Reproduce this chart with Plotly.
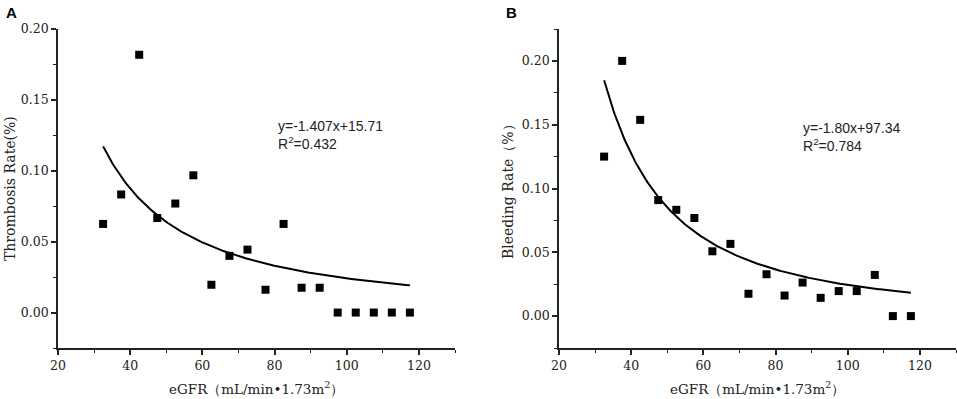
import numpy as np
import plotly.graph_objects as go

# ---------------- data ----------------
egfr = [32.5, 37.5, 42.5, 47.5, 52.5, 57.5, 62.5, 67.5, 72.5, 77.5,
        82.5, 87.5, 92.5, 97.5, 102.5, 107.5, 112.5, 117.5]
thrombosis_rate = [0.0625, 0.0833, 0.1818, 0.0667, 0.0769, 0.0968, 0.0196, 0.0400, 0.0444,
                   0.0161, 0.0625, 0.0175, 0.0175, 0.0, 0.0, 0.0, 0.0, 0.0]
bleeding_rate = [0.125, 0.200, 0.1538, 0.0909, 0.0833, 0.0769, 0.0508, 0.0566, 0.0175,
                 0.0328, 0.0161, 0.0263, 0.0143, 0.0196, 0.0196, 0.0323, 0.0, 0.0]

# fitted curves shown in the chart (y = a * x^b)
thrombosis_fit_a, thrombosis_fit_b = 15.71, -1.407
bleeding_fit_a, bleeding_fit_b = 97.34, -1.80
fit_x_min, fit_x_max = 32.5, 117.5

thrombosis_eq = ["y=-1.407x+15.71", "R<sup>2</sup>=0.432"]
bleeding_eq = ["y=-1.80x+97.34", "R<sup>2</sup>=0.784"]

x_title = "eGFR（mL/min•1.73m<sup>2</sup>）"
y_title_a = "Thrombosis Rate(%)"
y_title_b = "Bleeding Rate（%）"

# ---------------- figure ----------------
W, H = 957, 399
def px(x):
    return x / W
def py(y):
    return 1 - y / H

fit_x = np.linspace(fit_x_min, fit_x_max, 200)
fit_a = thrombosis_fit_a * fit_x ** thrombosis_fit_b
fit_b = bleeding_fit_a * fit_x ** bleeding_fit_b

fig = go.Figure()
marker = dict(symbol="square", size=8, color="black")
fig.add_trace(go.Scatter(x=egfr, y=thrombosis_rate, mode="markers", marker=marker,
                         xaxis="x", yaxis="y", showlegend=False))
fig.add_trace(go.Scatter(x=fit_x, y=fit_a, mode="lines", line=dict(color="black", width=2),
                         xaxis="x", yaxis="y", showlegend=False))
fig.add_trace(go.Scatter(x=egfr, y=bleeding_rate, mode="markers", marker=marker,
                         xaxis="x2", yaxis="y2", showlegend=False))
fig.add_trace(go.Scatter(x=fit_x, y=fit_b, mode="lines", line=dict(color="black", width=2),
                         xaxis="x2", yaxis="y2", showlegend=False))

serif = "DejaVu Serif, Liberation Serif, serif"
tickfont = dict(family=serif, size=12.5, color="#222")
common_x = dict(range=[20, 130], tick0=20, dtick=20, ticks="outside", ticklen=5, tickwidth=1.5,
                tickcolor="#222", showline=True, linecolor="#222", linewidth=1.8,
                showgrid=False, zeroline=False, tickfont=tickfont, automargin=False,
                minor=dict(tick0=20, dtick=10, ticks="outside", ticklen=3, tickwidth=1.3, tickcolor="#222"))
common_y = dict(tick0=0, dtick=0.05, tickformat=".2f", ticks="outside", ticklen=5, tickwidth=1.5,
                tickcolor="#222", showline=True, linecolor="#222", linewidth=1.8,
                showgrid=False, zeroline=False, tickfont=tickfont, automargin=False,
                minor=dict(tick0=0, dtick=0.025, ticks="outside", ticklen=3, tickwidth=1.3, tickcolor="#222"))

fig.update_layout(
    width=W, height=H,
    margin=dict(l=0, r=0, t=0, b=0, pad=0, autoexpand=False),
    paper_bgcolor="white", plot_bgcolor="white",
    xaxis=dict(domain=[px(58), px(455)], anchor="y", **common_x),
    yaxis=dict(domain=[py(348), py(29)], anchor="x", range=[-0.025, 0.2], **common_y),
    xaxis2=dict(domain=[px(559), px(956)], anchor="y2", **common_x),
    yaxis2=dict(domain=[py(348), py(29)], anchor="x2", range=[-0.025, 0.225], **common_y),
)

title_font = dict(family=serif, size=14, color="#222")
xtitle_font = dict(family=serif, size=13.5, color="#222")
eq_font = dict(family="Liberation Sans, Arial, sans-serif", size=14, color="#222")
letter_font = dict(family="Liberation Sans, Arial, sans-serif", size=15, color="black")
ann = [
    dict(text="<b>A</b>", x=px(4), y=py(12.5), xref="paper", yref="paper", xanchor="left",
         yanchor="middle", showarrow=False, font=letter_font),
    dict(text="<b>B</b>", x=px(504), y=py(12.5), xref="paper", yref="paper", xanchor="left",
         yanchor="middle", showarrow=False, font=letter_font),
    dict(text=x_title, x=px(256.5), y=py(388), xref="paper", yref="paper", xanchor="center",
         yanchor="middle", showarrow=False, font=xtitle_font),
    dict(text=x_title, x=px(757), y=py(388), xref="paper", yref="paper", xanchor="center",
         yanchor="middle", showarrow=False, font=xtitle_font),
    dict(text=y_title_a, x=px(10), y=py(189), xref="paper", yref="paper", xanchor="center",
         yanchor="middle", textangle=-90, showarrow=False, font=title_font),
    dict(text=y_title_b, x=px(508), y=py(188), xref="paper", yref="paper", xanchor="center",
         yanchor="middle", textangle=-90, showarrow=False, font=title_font),
    dict(text="<br>".join(thrombosis_eq), x=px(276), y=py(135), xref="paper", yref="paper",
         xanchor="left", yanchor="middle", align="left", showarrow=False, font=eq_font),
    dict(text="<br>".join(bleeding_eq), x=px(801), y=py(137), xref="paper", yref="paper",
         xanchor="left", yanchor="middle", align="left", showarrow=False, font=eq_font),
]
fig.update_layout(annotations=ann)

fig.write_html("out.html", config={"displayModeBar": False},
               post_script="document.body.style.margin='0';document.body.style.overflow='hidden';")
